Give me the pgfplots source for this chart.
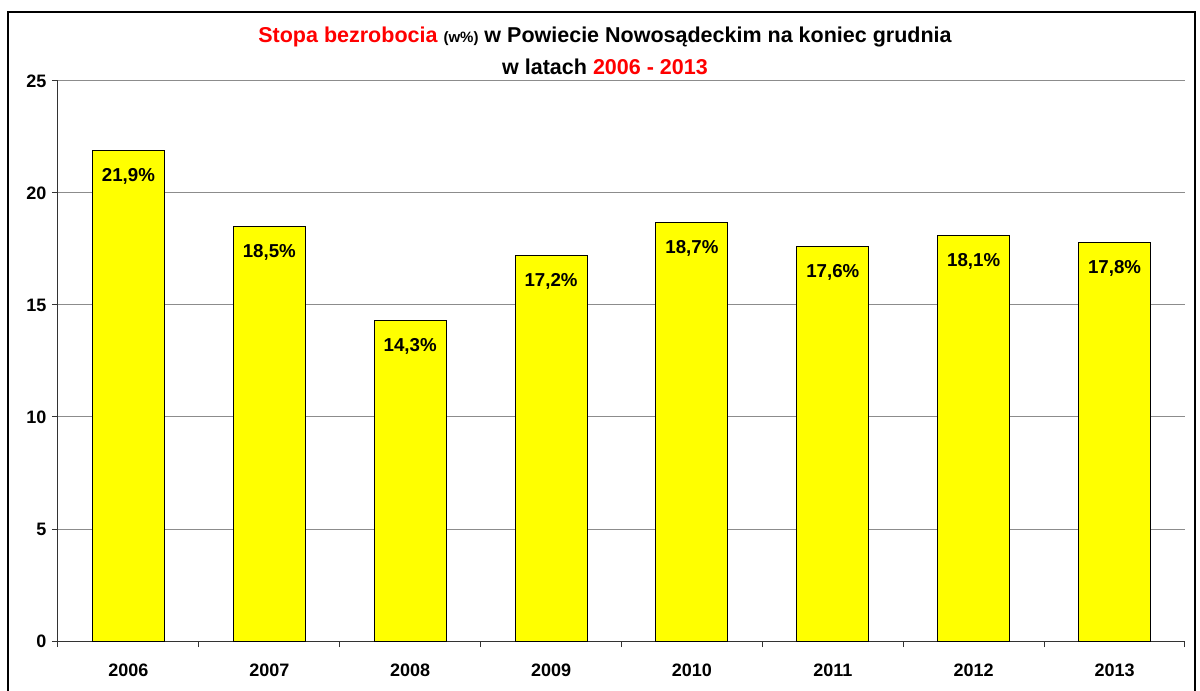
\documentclass[border=0pt]{standalone}
\usepackage{fontspec}
\setmainfont{Liberation Sans}
\usepackage{pgfplots}
\pgfplotsset{compat=1.18}
\definecolor{baryellow}{RGB}{255,255,0}
\definecolor{titlered}{RGB}{255,0,0}

\begin{document}
\begin{tikzpicture}[x=1pt,y=1pt]
\path[use as bounding box] (-58,-50) rectangle (1142,641);
\draw[line width=2pt] (-50,-60) -- (-50,629) -- (1137,629) -- (1137,-60);
\begin{axis}[
  at={(0,0)}, anchor=south west,
  scale only axis, width=1127pt, height=560pt,
  ymin=0, ymax=25, ytick={0,5,...,25},
  xmin=-0.5, xmax=7.5,
  xtick={0,...,7},
  xticklabels={2006,2007,2008,2009,2010,2011,2012,2013},
  minor xtick={-0.5,0.5,...,7.5},
  major x tick style={draw=none},
  minor tick length=6pt, major tick length=6pt,
  tick align=outside,
  axis lines*=left,
  axis line style={black!80, line width=1pt},
  tick style={black!80, line width=1pt},
  ymajorgrids, grid style={gray!90, line width=1pt},
  /pgf/number format/assume math mode=true,
  tick label style={font=\fontsize{18}{20}\selectfont\bfseries},
  xticklabel style={yshift=-13pt},
  yticklabel style={xshift=-2pt},
  ybar, bar width=72pt,
  nodes near coords={\pgfmathprintnumber[fixed,fixed zerofill,precision=1,use comma,assume math mode=true]{\pgfplotspointmeta}\%},
  nodes near coords style={anchor=north, yshift=-14pt, font=\fontsize{18.7}{20}\selectfont\bfseries, text=black},
]
\addplot[fill=baryellow, draw=black, line width=1pt] coordinates {
 (0,21.9)(1,18.5)(2,14.3)(3,17.2)(4,18.7)(5,17.6)(6,18.1)(7,17.8)
};
\end{axis}
\node[font=\fontsize{21.5}{23}\selectfont\bfseries] at (547,604)
  {\textcolor{titlered}{Stopa bezrobocia} {\fontsize{15}{16}\selectfont(w\%)} w Powiecie Nowosądeckim na koniec grudnia};
\node[font=\fontsize{21.5}{23}\selectfont\bfseries] at (547,574)
  {w latach \textcolor{titlered}{2006 - 2013}};
\end{tikzpicture}
\end{document}
